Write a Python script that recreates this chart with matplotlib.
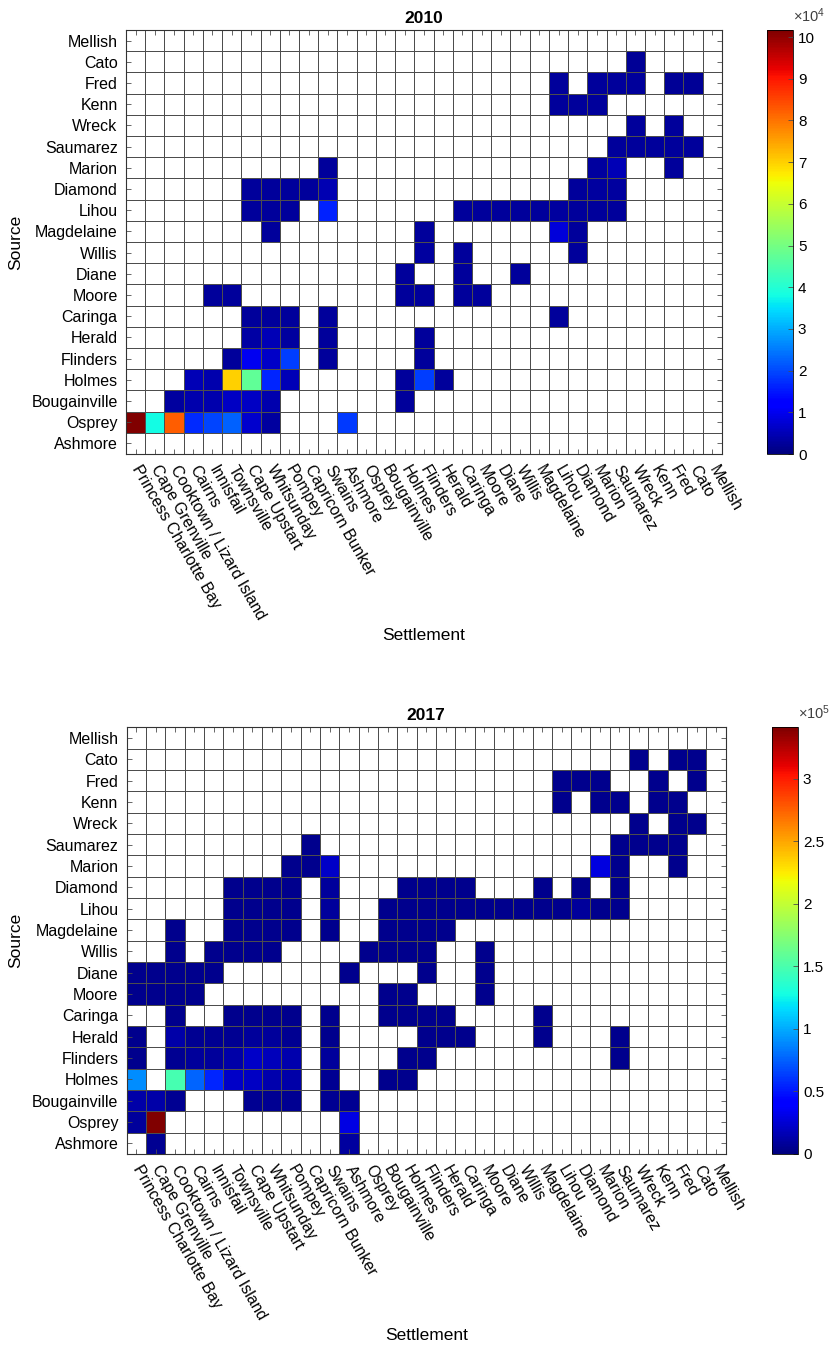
import numpy as np
import matplotlib
matplotlib.use("Agg")
import matplotlib.pyplot as plt

plt.rcParams["font.family"] = ["Liberation Sans", "DejaVu Sans"]
plt.rcParams["mathtext.fontset"] = "custom"
plt.rcParams["mathtext.rm"] = "Liberation Sans"
plt.rcParams["mathtext.it"] = "Liberation Sans"

settlements = ["Princess Charlotte Bay", "Cape Grenville", "Cooktown / Lizard Island", "Cairns",
               "Innisfail", "Townsville", "Cape Upstart", "Whitsunday", "Pompey", "Capricorn Bunker",
               "Swains", "Ashmore", "Osprey", "Bougainville", "Holmes", "Flinders", "Herald", "Caringa",
               "Moore", "Diane", "Willis", "Magdelaine", "Lihou", "Diamond", "Marion", "Saumarez",
               "Wreck", "Kenn", "Fred", "Cato", "Mellish"]
sources = ["Ashmore", "Osprey", "Bougainville", "Holmes", "Flinders", "Herald", "Caringa", "Moore",
           "Diane", "Willis", "Magdelaine", "Lihou", "Diamond", "Marion", "Saumarez", "Wreck", "Kenn",
           "Fred", "Cato", "Mellish"]

# 2010: source -> {settlement column: larvae}
flows_2010 = {
    "Cato": {26: 2000},
    "Fred": {22: 2500, 24: 2500, 25: 2500, 26: 2500, 28: 2000, 29: 2000},
    "Kenn": {22: 2500, 23: 2500, 24: 2500},
    "Wreck": {26: 2500, 28: 2500},
    "Saumarez": {25: 2500, 26: 2500, 27: 2500, 28: 2500, 29: 2500},
    "Marion": {10: 2500, 24: 3000, 25: 5000, 28: 2500},
    "Diamond": {6: 2500, 7: 2500, 8: 2500, 9: 2500, 10: 4500, 23: 2500, 24: 3000, 25: 3000},
    "Lihou": {6: 2500, 7: 2500, 8: 2500, 10: 16000, 17: 2500, 18: 2500, 19: 2500, 20: 2500,
              21: 2500, 22: 3000, 23: 2500, 24: 2500, 25: 2500},
    "Magdelaine": {7: 2500, 15: 2500, 22: 8000, 23: 2500},
    "Willis": {15: 3000, 17: 2500, 23: 2500},
    "Diane": {14: 2500, 17: 2500, 20: 2500},
    "Moore": {4: 2500, 5: 2500, 14: 2500, 15: 2500, 17: 2500, 18: 2500},
    "Caringa": {6: 2500, 7: 2500, 8: 2500, 10: 2500, 22: 2500},
    "Herald": {6: 3500, 7: 5000, 8: 3000, 10: 2500, 15: 2500},
    "Flinders": {5: 2500, 6: 10000, 7: 6500, 8: 19000, 10: 2500, 15: 2500},
    "Holmes": {3: 5000, 4: 4000, 5: 70000, 6: 47500, 7: 16500, 8: 5000, 14: 2500, 15: 19000, 16: 2500},
    "Bougainville": {2: 3000, 3: 4000, 4: 4000, 5: 6000, 6: 6000, 7: 4000, 14: 2500},
    "Osprey": {0: 101700, 1: 38000, 2: 82500, 3: 17000, 4: 19500, 5: 22500, 6: 7000, 7: 3000, 11: 18500},
}

# 2017
flows_2017 = {
    "Cato": {26: 5000, 28: 5000, 29: 5000},
    "Fred": {22: 5000, 23: 5000, 24: 5000, 27: 5000, 29: 5000},
    "Kenn": {22: 5000, 24: 5000, 25: 5000, 27: 5000, 28: 5000},
    "Wreck": {26: 5000, 28: 5000, 29: 5000},
    "Saumarez": {9: 5000, 25: 5000, 26: 5000, 27: 5000, 28: 5000},
    "Marion": {8: 5000, 9: 5000, 10: 22000, 24: 28000, 25: 5000, 28: 5000},
    "Diamond": {5: 5000, 6: 5000, 7: 5000, 8: 5000, 10: 8000, 14: 5000, 15: 5000, 16: 5000,
                17: 5000, 21: 5000, 23: 5000, 25: 5000},
    "Lihou": {5: 5000, 6: 5000, 7: 5000, 8: 5000, 10: 8000, 13: 5000, 14: 5000, 15: 5000,
              16: 5000, 17: 5000, 18: 5000, 19: 5000, 20: 5000, 21: 5000, 22: 5000, 23: 9000,
              24: 5000, 25: 5000},
    "Magdelaine": {2: 5000, 5: 5000, 6: 5000, 7: 5000, 8: 5000, 10: 5000, 13: 5000, 14: 5000,
                   15: 5000, 16: 5000},
    "Willis": {2: 5000, 4: 5000, 5: 5000, 6: 5000, 7: 5000, 12: 5000, 13: 5000, 14: 5000,
               15: 5000, 18: 5000},
    "Diane": {0: 5000, 1: 5000, 2: 5000, 3: 5000, 4: 5000, 11: 5000, 15: 5000, 18: 5000},
    "Moore": {0: 5000, 1: 5000, 2: 5000, 3: 5000, 13: 5000, 14: 5000, 18: 5000},
    "Caringa": {2: 5000, 5: 5000, 6: 5000, 7: 5000, 8: 5000, 10: 5000, 13: 5000, 14: 5000,
                15: 5000, 16: 5000, 21: 5000},
    "Herald": {0: 5000, 2: 12000, 3: 6000, 4: 6000, 5: 6000, 6: 9000, 7: 8000, 8: 6000, 10: 5000,
               15: 5000, 16: 5000, 17: 5000, 21: 5000, 25: 5000},
    "Flinders": {0: 5000, 2: 6000, 3: 8000, 4: 8000, 5: 12000, 6: 22000, 7: 18000, 8: 14000,
                 10: 9000, 14: 5000, 15: 5000, 25: 5000},
    "Holmes": {0: 90000, 2: 148000, 3: 76000, 4: 55000, 5: 22000, 6: 20000, 7: 14000, 8: 12000,
               10: 6000, 13: 5000, 14: 5000},
    "Bougainville": {0: 12000, 1: 12000, 2: 6000, 6: 6000, 7: 6000, 8: 6000, 10: 6000, 11: 6000},
    "Osprey": {0: 8000, 1: 341000, 11: 30000},
    "Ashmore": {1: 6000, 11: 10000},
}

cbar_ticks_2010 = [0, 1, 2, 3, 4, 5, 6, 7, 8, 9, 10]
cbar_ticks_2017 = [0, 0.5, 1, 1.5, 2, 2.5, 3]

panels = [("2010", flows_2010, 101700, cbar_ticks_2010, 4,
           [0.1514, 0.6627, 0.7163, 0.3150], [0.9219, 0.6627, 0.0313, 0.3150]),
          ("2017", flows_2017, 341000, cbar_ticks_2017, 5,
           [0.1523, 0.1427, 0.7200, 0.3170], [0.9279, 0.1427, 0.0313, 0.3170])]

fig = plt.figure(figsize=(8.32, 13.46), dpi=100)
for year, flows, vmax, cticks, expo, pos, cpos in panels:
    grid = np.zeros((len(sources), len(settlements)))
    for src, row in flows.items():
        for col, val in row.items():
            grid[sources.index(src), col] = val
    ax = fig.add_axes(pos)
    mesh = ax.pcolormesh(np.ma.masked_equal(grid, 0), cmap="jet", vmin=0, vmax=vmax,
                         edgecolors="0.3", linewidth=0.6)
    # grid lines on empty cells too
    for x in range(len(settlements) + 1):
        ax.axvline(x, color="0.3", lw=0.6)
    for y in range(len(sources) + 1):
        ax.axhline(y, color="0.3", lw=0.6)
    ax.set_xlim(0, len(settlements))
    ax.set_ylim(0, len(sources))
    ax.set_xticks(np.arange(len(settlements)) + 0.5)
    ax.set_xticklabels(settlements, rotation=-60, ha="left", va="center",
                       rotation_mode="anchor", fontsize=11.5)
    ax.set_yticks(np.arange(len(sources)) + 0.5)
    ax.set_yticklabels(sources, fontsize=11.5)
    ax.tick_params(direction="in", length=3.5, width=0.6, color="0.3",
                   top=True, right=True, pad=6)
    ax.tick_params(axis="x", pad=9)
    for s in ax.spines.values():
        s.set_color("0.2")
        s.set_linewidth(0.8)
    ax.set_title(year, fontsize=12.5, fontweight="bold", pad=5)
    ax.set_xlabel("Settlement", fontsize=12.5, labelpad=4)
    ax.set_ylabel("Source", fontsize=12.5, labelpad=6)

    cax = fig.add_axes(cpos)
    cb = fig.colorbar(mesh, cax=cax)
    cb.set_ticks([t * 10 ** expo for t in cticks])
    cb.set_ticklabels([f"{t:g}" for t in cticks])
    cb.ax.tick_params(direction="in", length=3.5, width=0.6, labelsize=11, color="0.3")
    cb.outline.set_linewidth(0.6)
    cax.text(1.0, 1.012, r"$\times10^{%d}$" % expo, transform=cax.transAxes,
             ha="left", va="bottom", fontsize=10.5, color="0.25")

fig.savefig("out.png", dpi=100)
